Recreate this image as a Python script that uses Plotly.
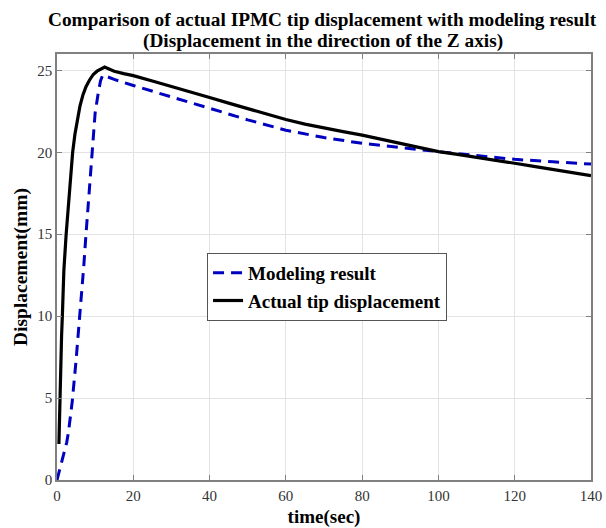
import plotly.graph_objects as go

# Modeling result (blue dashed)
model_t = [0, 1, 2, 2.55, 3, 4, 5, 6, 7, 7.6, 8.3, 9.1, 10, 10.8, 11.4, 12, 15, 20, 25, 30, 35, 40, 50, 60, 70, 80, 90, 100, 110, 120, 130, 140]
model_y = [0, 0.9, 1.8, 2.3, 2.9, 4.8, 7.3, 10.0, 13.0, 15.0, 17.1, 20.0, 22.4, 23.6, 24.35, 24.72, 24.45, 24.08, 23.72, 23.37, 23.03, 22.69, 21.98, 21.35, 20.9, 20.55, 20.28, 20.04, 19.8, 19.57, 19.42, 19.28]

# Actual tip displacement (black solid)
actual_t = [0.5, 0.6, 0.8, 1.0, 1.2, 1.4, 1.8, 2.4, 3.0, 3.5, 4.1, 4.7, 5.3, 6.0, 6.8, 7.6, 8.5, 9.5, 10.5, 11.5, 12.5, 13.5, 15, 17.5, 20, 25, 30, 35, 40, 45, 50, 55, 60, 65, 70, 75, 80, 85, 90, 95, 100, 105, 110, 115, 120, 125, 130, 135, 140]
actual_y = [2.2, 3.5, 5.5, 7.5, 8.8, 10.0, 12.8, 15.0, 17.0, 18.6, 20.0, 21.1, 22.0, 22.8, 23.5, 24.0, 24.4, 24.75, 24.95, 25.1, 25.2, 25.1, 24.95, 24.8, 24.68, 24.35, 24.0, 23.7, 23.35, 23.0, 22.65, 22.32, 22.0, 21.72, 21.48, 21.26, 21.05, 20.8, 20.55, 20.3, 20.04, 19.87, 19.7, 19.52, 19.33, 19.14, 18.95, 18.77, 18.58]

x_ticks = [0, 20, 40, 60, 80, 100, 120, 140]
y_ticks = [0, 5, 10, 15, 20, 25]

title_line1 = "Comparison of actual IPMC tip displacement with modeling result"
title_line2 = "(Displacement in the direction of the Z axis)"

serif = "Liberation Serif"

fig = go.Figure()
fig.add_trace(go.Scatter(x=model_t, y=model_y, mode="lines", name="<b>Modeling result</b>",
                         line=dict(color="#0000c0", width=3, dash="11px,7px")))
fig.add_trace(go.Scatter(x=actual_t, y=actual_y, mode="lines", name="<b>Actual tip displacement</b>",
                         line=dict(color="black", width=3.2)))

axis_common = dict(showline=True, mirror="ticks", linecolor="#808080", linewidth=1.5,
                   ticks="inside", ticklen=5, tickcolor="#808080", tickwidth=1,
                   showgrid=True, gridcolor="#e3e3e3", gridwidth=1, zeroline=False,
                   automargin=False,
                   tickfont=dict(family=serif, size=15, color="#333333"))

fig.update_layout(
    width=606, height=528,
    margin=dict(l=57, r=15, t=54, b=48),
    paper_bgcolor="white", plot_bgcolor="white",
    xaxis=dict(range=[0, 140], tickvals=x_ticks, ticklabelstandoff=1,
               title=dict(text="<b>time(sec)</b>", font=dict(family=serif, size=19, color="black"), standoff=8),
               **axis_common),
    yaxis=dict(range=[0, 26], tickvals=y_ticks,
               title=dict(text="<b>Displacement(mm)</b>", font=dict(family=serif, size=19.5, color="black"), standoff=4),
               **axis_common),
    legend=dict(x=0.281, y=0.533, xanchor="left", yanchor="top",
                bgcolor="white", bordercolor="#555555", borderwidth=1,
                font=dict(family=serif, size=19, color="black"),
                tracegroupgap=0, itemwidth=30),
    showlegend=True,
)

fig.add_annotation(text="<b>" + title_line1 + "</b>", xref="paper", yref="paper",
                   x=0.498, y=(480 - 19) / 426, xanchor="center", yanchor="middle", showarrow=False,
                   font=dict(family=serif, size=19.3, color="black"))
fig.add_annotation(text="<b>" + title_line2 + "</b>", xref="paper", yref="paper",
                   x=0.498, y=(480 - 41) / 426, xanchor="center", yanchor="middle", showarrow=False,
                   font=dict(family=serif, size=19.3, color="black"))

fig.write_html("out.html", config={"displayModeBar": False},
               post_script="document.body.style.margin='0';")
